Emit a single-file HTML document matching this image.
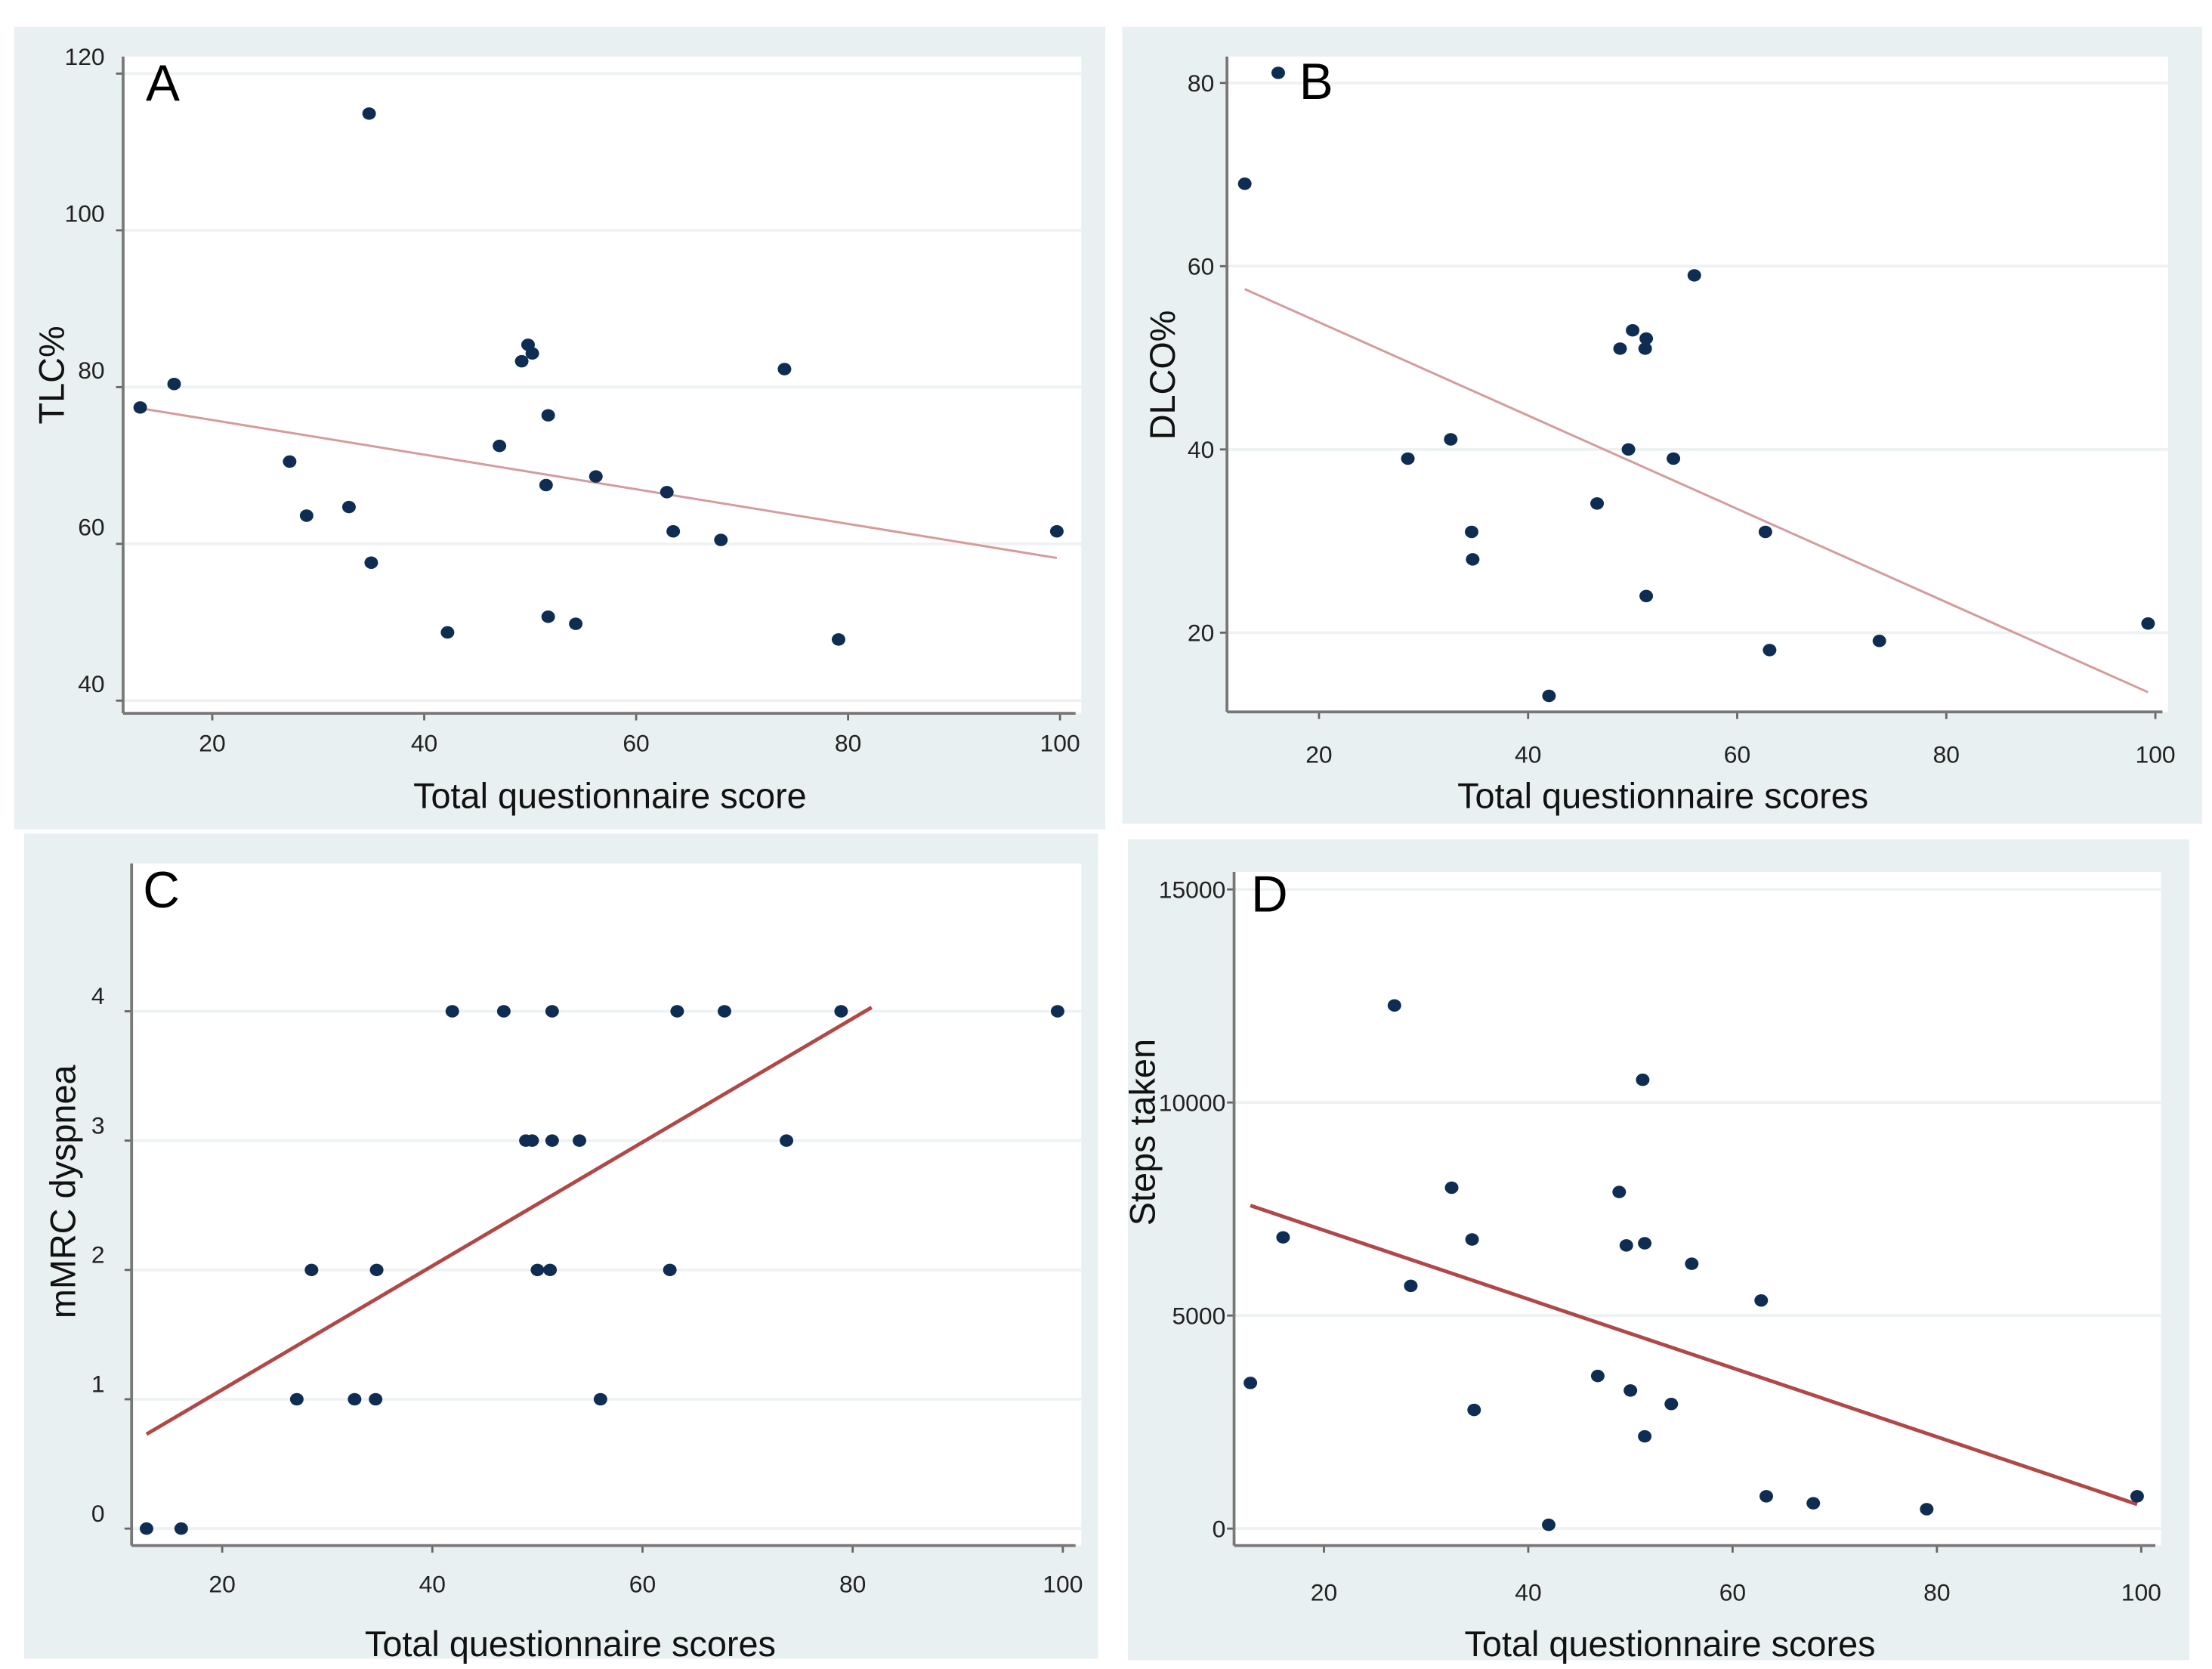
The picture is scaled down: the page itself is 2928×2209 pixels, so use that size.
<!DOCTYPE html>
<html><head><meta charset="utf-8"><title>Questionnaire score correlations</title>
<style>
html,body{margin:0;padding:0;background:#fff;}
svg{display:block;}
text{font-family:"Liberation Sans",sans-serif;}
</style></head>
<body>
<svg id="fig" width="2928" height="2209" viewBox="0 0 1563 1179.2" preserveAspectRatio="none" xmlns="http://www.w3.org/2000/svg"></svg>
<script>
// ---- Panel A data ----
const aX = [13.2,16.4,27.3,28.9,32.9,34.8,35.0,42.2,47.1,49.2,49.8,50.2,51.5,51.7,51.7,54.3,56.2,62.9,63.5,68.0,74.0,79.1,99.7];
const aY = [77.4,80.4,70.5,63.6,64.7,114.9,57.6,48.7,72.5,83.3,85.4,84.3,67.5,76.4,50.7,49.8,68.6,66.6,61.6,60.5,82.3,47.8,61.6];
const aFitX = [13.2,99.7];
const aFitY = [77.3,58.2];
const aYTicks = [40,60,80,100,120];
// ---- Panel B data ----
const bX = [12.9,16.1,28.5,32.6,34.6,34.7,42.0,46.6,48.8,49.6,50.0,51.2,51.3,51.3,53.9,55.9,62.7,63.1,73.6,99.3];
const bY = [69.0,81.1,39.0,41.1,31.0,28.0,13.1,34.1,51.0,40.0,53.0,51.0,52.1,24.0,39.0,59.0,31.0,18.1,19.1,21.0];
const bFitX = [12.9,99.3];
const bFitY = [57.5,13.5];
const bYTicks = [20,40,60,80];
// ---- Panel C data ----
const cX = [12.8,16.1,27.1,28.5,32.6,34.6,34.7,41.9,46.8,48.9,49.5,50.0,51.2,51.4,51.4,54.0,56.0,62.6,63.3,67.8,73.7,78.9,99.5];
const cY = [0,0,1,2,1,1,2,4,4,3,3,2,2,4,3,3,1,2,4,4,3,4,4];
const cFitX = [12.8,81.8];
const cFitY = [0.73,4.03];
const cYTicks = [0,1,2,3,4];
// ---- Panel D data ----
const dX = [12.8,16.0,26.9,28.5,32.5,34.5,34.7,42.0,46.8,48.9,49.6,50.0,51.2,51.4,51.4,54.0,56.0,62.8,63.3,67.9,79.0,99.6];
const dY = [3418,6835,12278,5696,8000,6785,2785,89,3582,7899,6646,3241,10532,6696,2165,2924,6215,5354,759,595,456,759];
const dFitX = [12.8,99.6];
const dFitY = [7582,570];
const dYTicks = [0,5000,10000,15000];
const xTicks = [20,40,60,80,100];

const NS='http://www.w3.org/2000/svg';
const svg=document.getElementById('fig');
function mk(tag,attrs,parent){const e=document.createElementNS(NS,tag);for(const k in attrs)e.setAttribute(k,attrs[k]);(parent||svg).appendChild(e);return e;}

const panels=[
 {id:'a',letter:'A',xs:aX,ys:aY,fx:aFitX,fy:aFitY,yt:aYTicks,ytitle:'TLC%',xtitle:'Total questionnaire score',
  bg:[10,19,771,567],plot:[87,40,764,504],x0:150,x1:749,v0:20,v1:100,yv0:40,yv1:120,py0:495,py1:52,
  ylabX:74,ylabDy:-12,xlabY:531,xtitleX:431,xtitleY:571,ytitleX:37,ytitleY:265,lineCol:'#d49c9c',lineW:1.6,letterX:103,letterY:71},
 {id:'b',letter:'B',xs:bX,ys:bY,fx:bFitX,fy:bFitY,yt:bYTicks,ytitle:'DLCO%',xtitle:'Total questionnaire scores',
  bg:[793,19,763,563],plot:[867,40,1532,503],x0:932,x1:1523,v0:20,v1:100,yv0:20,yv1:80,py0:447,py1:58.6,
  ylabX:858,ylabDy:0,xlabY:539,xtitleX:1175,xtitleY:571,ytitleX:822,ytitleY:265,lineCol:'#d49c9c',lineW:1.6,letterX:918,letterY:70},
 {id:'c',letter:'C',xs:cX,ys:cY,fx:cFitX,fy:cFitY,yt:cYTicks,ytitle:'mMRC dyspnea',xtitle:'Total questionnaire scores',
  bg:[17,589,759,583],plot:[93,610,764,1092],x0:157,x1:751,v0:20,v1:100,yv0:0,yv1:4,py0:1080,py1:714.5,
  ylabX:74,ylabDy:-11,xlabY:1125,xtitleX:403,xtitleY:1170,ytitleX:45,ytitleY:842,lineCol:'#b04848',lineW:2.6,letterX:101,letterY:641},
 {id:'d',letter:'D',xs:dX,ys:dY,fx:dFitX,fy:dFitY,yt:dYTicks,ytitle:'Steps taken',xtitle:'Total questionnaire scores',
  bg:[797,593,750,580],plot:[872,616,1527,1092],x0:935.5,x1:1513,v0:20,v1:100,yv0:0,yv1:15000,py0:1080,py1:628.4,
  ylabX:866,ylabDy:0,xlabY:1131,xtitleX:1180,xtitleY:1170,ytitleX:808,ytitleY:800,lineCol:'#b04848',lineW:2.6,letterX:884,letterY:644}
];

panels.forEach(p=>{
  const g=mk('g',{});
  
  
  const sx=v=>p.x0+(v-p.v0)/(p.v1-p.v0)*(p.x1-p.x0);
  const sy=v=>p.py0+(v-p.yv0)/(p.yv1-p.yv0)*(p.py1-p.py0);
  const bg=mk('rect',{x:p.bg[0],y:p.bg[1],width:p.bg[2],height:p.bg[3],fill:'#e9f0f1'},g);
  
  
  const pl=p.plot;
  const pa=mk('rect',{x:pl[0],y:pl[1],width:pl[2]-pl[0],height:pl[3]-pl[1],fill:'#ffffff'},g);
  
  
  p.yt.forEach(t=>{
    const y=sy(t);
    const gl=mk('line',{x1:pl[0],x2:pl[2],y1:y,y2:y,stroke:'#eef2f3','stroke-width':2},g);
    
    
    mk('line',{x1:pl[0]-5,x2:pl[0],y1:y,y2:y,stroke:'#666','stroke-width':1.5},g);
    const tx=mk('text',{x:p.ylabX,y:y+p.ylabDy+6,'font-size':17,'text-anchor':'end',fill:'#222'},g);
    tx.textContent=t;
    
    
  });
  xTicks.forEach(t=>{
    const x=sx(t);
    mk('line',{x1:x,x2:x,y1:pl[3],y2:pl[3]+5,stroke:'#666','stroke-width':1.5},g);
    const tx=mk('text',{x:x,y:p.xlabY,'font-size':17,'text-anchor':'middle',fill:'#222'},g);
    tx.textContent=t;
    
    
  });
  const ya=mk('line',{x1:pl[0],x2:pl[0],y1:pl[1],y2:pl[3],stroke:'#777','stroke-width':2},g);
  
  
  const xa=mk('line',{x1:pl[0],x2:pl[2]-4,y1:pl[3],y2:pl[3],stroke:'#777','stroke-width':2},g);
  
  
  const fit=mk('line',{x1:sx(p.fx[0]),y1:sy(p.fy[0]),x2:sx(p.fx[1]),y2:sy(p.fy[1]),stroke:p.lineCol,'stroke-width':p.lineW},g);
  
  
  p.xs.forEach((v,i)=>{
    const c=mk('ellipse',{cx:sx(v),cy:sy(p.ys[i]),rx:4.8,ry:4.4,fill:'#0f2d52'},g);
    
    
  });
  const lt=mk('text',{x:p.letterX,y:p.letterY,'font-size':36,fill:'#000'},g);
  lt.textContent=p.letter;
  
  
  const xt=mk('text',{x:p.xtitleX,y:p.xtitleY,'font-size':25,'text-anchor':'middle',fill:'#111'},g);
  xt.textContent=p.xtitle;
  
  
  const yt=mk('text',{x:0,y:0,'font-size':25,'text-anchor':'middle',fill:'#111',transform:'translate('+(p.ytitleX+8)+','+p.ytitleY+') rotate(-90)'},g);
  yt.textContent=p.ytitle;
  
  
});
</script>
</body></html>
